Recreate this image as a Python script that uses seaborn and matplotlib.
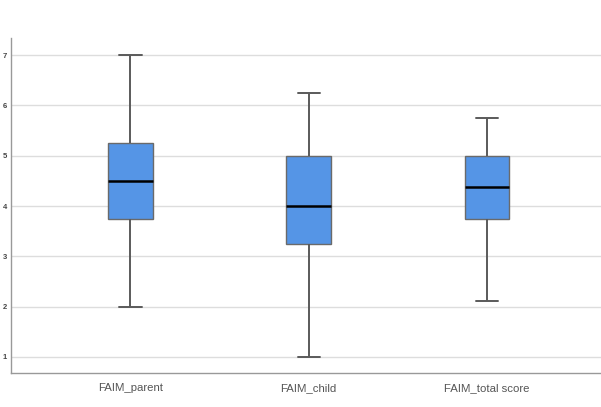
import matplotlib
matplotlib.use("Agg")
import matplotlib.pyplot as plt
import seaborn as sns
import pandas as pd

# Five-number summaries per scale: min, Q1, median, Q3, max
categories = ["FAIM_parent", "FAIM_child", "FAIM_total score"]
faim_parent = [2.0, 3.75, 4.5, 5.25, 7.0]
faim_child = [1.0, 3.25, 4.0, 5.0, 6.25]
faim_total = [2.12, 3.75, 4.375, 5.0, 5.75]
y_ticks = [1, 2, 3, 4, 5, 6, 7]

df = pd.DataFrame({
    "scale": [c for c, vals in zip(categories, [faim_parent, faim_child, faim_total]) for _ in vals],
    "value": faim_parent + faim_child + faim_total,
})

sns.set_style("white")
plt.rcParams["font.family"] = ["Liberation Sans", "DejaVu Sans"]
fig = plt.figure(figsize=(6.01, 4.07), dpi=100)
ax = fig.add_axes([0.0183, 0.0835, 0.9817, 0.8231])

edge = "#5a5a5a"
sns.boxplot(
    data=df, x="scale", y="value", order=categories, ax=ax,
    color="#5595e6", saturation=1, width=0.25, whis=(0, 100),
    boxprops=dict(edgecolor="#6a6a6a", linewidth=1.0),
    whiskerprops=dict(color=edge, linewidth=1.4),
    capprops=dict(color=edge, linewidth=1.4),
    medianprops=dict(color="#000000", linewidth=1.8),
    showfliers=False,
)

ax.set_xlim(-0.67, 2.64)
ax.set_ylim(0.68, 7.34)
ax.set_yticks(y_ticks)
ax.set_yticklabels([str(t) for t in y_ticks], fontsize=5.5, color="#444444", fontweight="bold")
ax.tick_params(axis="x", labelsize=8.2, colors="#555555", length=0, pad=7)
ax.tick_params(axis="y", length=0, pad=3)
ax.set_xlabel("")
ax.set_ylabel("")
ax.yaxis.grid(True, color="#dddddd", linewidth=1.0)
ax.set_axisbelow(True)
for s in ["top", "right"]:
    ax.spines[s].set_visible(False)
for s in ["left", "bottom"]:
    ax.spines[s].set_color("#999999")
    ax.spines[s].set_linewidth(1.0)

fig.savefig("out.png", dpi=100)
